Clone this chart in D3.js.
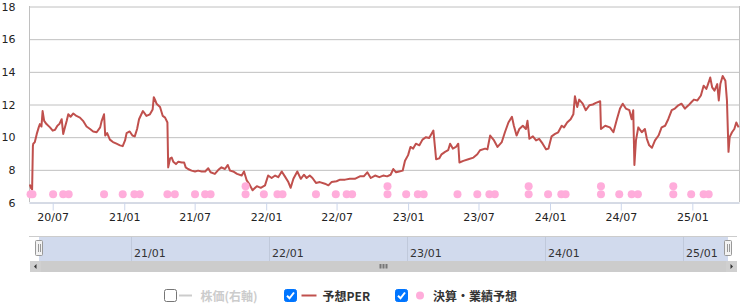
<!DOCTYPE html>
<html><head><meta charset="utf-8">
<script src="https://cdn.jsdelivr.net/npm/d3@7"></script>
<style>body{margin:0;background:#fff}svg{display:block}</style>
</head><body>
<svg id="c" width="745" height="304"></svg>
<script>
// ---- data ----
const perDates = [
"2020-05-03","2020-05-06","2020-05-09","2020-05-11","2020-05-12","2020-05-16","2020-05-21","2020-05-26","2020-05-29","2020-06-02",
"2020-06-05","2020-06-09","2020-06-15","2020-06-24","2020-07-01","2020-07-07","2020-07-13","2020-07-18","2020-07-24","2020-07-28",
"2020-08-02","2020-08-06","2020-08-10","2020-08-16","2020-08-23","2020-08-31","2020-09-09","2020-09-17","2020-09-26","2020-10-05",
"2020-10-13","2020-10-22","2020-10-31","2020-11-04","2020-11-10","2020-11-13","2020-11-18","2020-11-25","2020-12-03","2020-12-12",
"2020-12-21","2020-12-28","2021-01-03","2021-01-07","2021-01-15","2021-01-22","2021-01-28","2021-02-03","2021-02-08","2021-02-14",
"2021-02-18","2021-02-27","2021-03-08","2021-03-15","2021-03-18","2021-03-21","2021-03-25","2021-04-03","2021-04-10","2021-04-16",
"2021-04-22","2021-04-24","2021-04-29","2021-05-03","2021-05-07","2021-05-14","2021-05-20","2021-05-29","2021-06-04","2021-06-08",
"2021-06-14","2021-06-23","2021-07-02","2021-07-10","2021-07-19","2021-07-28","2021-08-05","2021-08-11","2021-08-22","2021-08-31",
"2021-09-08","2021-09-17","2021-09-24","2021-09-30","2021-10-08","2021-10-18","2021-10-30","2021-11-05","2021-11-12","2021-11-18",
"2021-11-27","2021-12-08","2021-12-18","2021-12-29","2022-01-06","2022-01-15","2022-01-24","2022-02-01","2022-02-10","2022-02-18",
"2022-02-27","2022-03-05","2022-03-12","2022-03-22","2022-03-31","2022-04-08","2022-04-15","2022-04-23","2022-04-30","2022-05-09",
"2022-05-19","2022-06-01","2022-06-10","2022-06-18","2022-07-01","2022-07-10","2022-07-23","2022-08-04","2022-08-17","2022-08-30",
"2022-09-09","2022-09-18","2022-09-27","2022-10-08","2022-10-19","2022-10-29","2022-11-08","2022-11-17","2022-11-24","2022-12-01",
"2022-12-09","2022-12-18","2022-12-24","2023-01-01","2023-01-07","2023-01-14","2023-01-21","2023-01-30","2023-02-07","2023-02-16",
"2023-02-24","2023-03-02","2023-03-07","2023-03-14","2023-03-22","2023-03-28","2023-04-06","2023-04-14","2023-04-19","2023-04-26",
"2023-05-04","2023-05-10","2023-05-13","2023-05-23","2023-06-05","2023-06-18","2023-06-28","2023-07-05","2023-07-18","2023-07-24",
"2023-07-31","2023-08-10","2023-08-19","2023-08-30","2023-09-07","2023-09-16","2023-09-25","2023-09-30","2023-10-07","2023-10-14",
"2023-10-23","2023-10-31","2023-11-04","2023-11-09","2023-11-18","2023-11-26","2023-12-04","2023-12-13","2023-12-22","2023-12-28",
"2024-01-05","2024-01-14","2024-01-22","2024-01-31","2024-02-06","2024-02-14","2024-02-23","2024-03-01","2024-03-05","2024-03-11",
"2024-03-16","2024-03-25","2024-04-02","2024-04-11","2024-04-20","2024-04-28","2024-05-09","2024-05-11","2024-05-22","2024-06-03",
"2024-06-12","2024-06-21","2024-06-29","2024-07-06","2024-07-14","2024-07-23","2024-07-29","2024-08-02","2024-08-05","2024-08-09",
"2024-08-15","2024-08-24","2024-09-01","2024-09-06","2024-09-12","2024-09-19","2024-09-27","2024-10-06","2024-10-14","2024-10-23",
"2024-10-31","2024-11-09","2024-11-17","2024-11-26","2024-12-04","2024-12-13","2024-12-22","2024-12-30","2025-01-05","2025-01-14",
"2025-01-23","2025-01-30","2025-02-06","2025-02-12","2025-02-16","2025-02-21","2025-02-27","2025-03-06","2025-03-10","2025-03-14",
"2025-03-20","2025-03-27","2025-03-31","2025-04-04","2025-04-07","2025-04-13","2025-04-19","2025-04-24","2025-04-30"
];
const perValues = [
7.1,6.9,6.8,9.45,9.6,9.7,10.2,10.6,10.8,10.65,
11.6,11.0,10.8,10.6,10.4,10.45,10.7,10.8,11.1,10.2,
10.65,11.0,11.4,11.25,11.45,11.3,11.2,11.0,10.65,10.5,
10.35,10.3,10.6,11.0,11.4,10.1,10.25,9.85,9.7,9.6,
9.5,9.45,9.8,10.25,10.35,10.1,10.05,10.5,11.1,11.4,
11.6,11.3,11.4,11.7,12.45,12.3,12.05,11.85,11.3,11.2,
10.9,8.15,8.7,8.75,8.5,8.35,8.5,8.45,8.45,8.15,
8.05,7.95,7.9,7.95,7.9,7.9,8.1,7.85,7.75,8.0,
8.15,8.05,8.3,7.95,7.9,7.75,7.65,7.9,7.35,7.15,
6.75,7.0,6.9,7.05,7.65,7.5,7.65,7.55,7.9,7.6,
7.25,6.9,7.45,7.9,7.45,7.7,7.5,7.65,7.5,7.2,
7.25,7.15,7.05,7.25,7.3,7.4,7.4,7.45,7.45,7.6,
7.6,7.85,7.5,7.65,7.55,7.65,7.6,7.7,8.05,7.85,
7.9,7.95,8.55,8.9,9.4,9.3,9.6,9.5,9.85,10.0,
9.95,10.2,10.4,8.65,8.7,8.95,9.1,9.2,9.6,9.3,
9.4,9.6,8.45,8.55,8.65,8.75,8.95,9.2,9.3,9.25,
10.1,9.8,9.4,9.7,10.3,10.9,11.25,10.7,10.1,10.5,
10.7,10.5,11.0,9.9,10.05,9.8,9.9,9.6,9.25,9.3,
10.05,10.2,10.3,10.7,10.6,10.9,11.1,11.4,12.5,11.85,
12.3,12.05,11.65,11.95,12.0,12.1,12.2,10.5,10.7,10.6,
10.3,11.1,11.75,12.05,11.75,11.65,11.1,11.65,8.3,9.8,
10.6,10.3,10.5,9.9,9.5,9.35,9.8,10.1,10.6,10.7,
11.1,11.65,11.75,11.95,12.05,11.75,11.95,12.15,12.3,12.25,
12.55,13.15,12.95,13.35,13.65,13.05,12.85,13.25,12.25,13.25,
13.75,13.45,12.25,9.1,10.0,10.3,10.5,10.9,10.6
];
const eventDates = [
"2020-05-05","2020-05-10","2020-07-02","2020-07-28","2020-08-11","2020-11-10","2020-12-28","2021-01-27","2021-02-10",
"2021-04-22","2021-05-11","2021-07-02","2021-07-28","2021-08-11","2021-11-09","2021-11-09","2021-12-26","2022-01-30","2022-02-12",
"2022-05-09","2022-06-29","2022-07-27","2022-08-10","2022-11-09","2022-11-09","2022-12-27","2023-01-26","2023-02-10",
"2023-05-08","2023-06-28","2023-07-29","2023-08-12","2023-11-07","2023-11-07","2023-12-27","2024-01-30","2024-02-10",
"2024-05-11","2024-05-11","2024-06-27","2024-07-29","2024-08-14","2024-11-13","2024-11-13","2024-12-29","2025-01-30","2025-02-12"
];
const eventLevels = [
6.5,6.5,6.5,6.5,6.5,6.5,6.5,6.5,6.5,
6.5,6.5,6.5,6.5,6.5,6.5,7.0,6.5,6.5,6.5,
6.5,6.5,6.5,6.5,6.5,7.0,6.5,6.5,6.5,
6.5,6.5,6.5,6.5,6.5,7.0,6.5,6.5,6.5,
6.5,7.0,6.5,6.5,6.5,6.5,7.0,6.5,6.5,6.5
];
const yTickValues = [6,8,10,12,14,16,18];
const xTickDates = ["2020-07-01","2021-01-01","2021-07-01","2022-01-01","2022-07-01","2023-01-01","2023-07-01","2024-01-01","2024-07-01","2025-01-01"];
const navTickDates = ["2021-01-01","2022-01-01","2023-01-01","2024-01-01","2025-01-01"];
const xDomain = ["2020-05-01","2025-05-01"];
const legendLabels = ["株価(右軸)","予想PER","決算・業績予想"];

// ---- drawing ----
const P = d3.timeParse("%Y-%m-%d");
const svg = d3.select("#c");
const FONT = "'DejaVu Sans', Verdana, sans-serif";
const L = 29, R = 739, T = 6, B = 202;
const x = d3.scaleTime().domain(xDomain.map(P)).range([L, R]);
const y = d3.scaleLinear().domain([6, 18]).range([B + 0.5, T + 0.5]);

// y grid + labels
const gy = svg.append("g").attr("transform", `translate(${L + 0.5},0)`)
  .call(d3.axisLeft(y).tickValues(yTickValues).tickSize(-(R - L)).tickPadding(14).tickFormat(d3.format("d")));
gy.select(".domain").remove();
gy.selectAll(".tick line").attr("stroke", "#c0c0c0");
gy.selectAll("text").attr("font-family", FONT).attr("font-size", 11).attr("fill", "#222");

// plot side borders
svg.append("line").attr("x1", L + 0.5).attr("x2", L + 0.5).attr("y1", T).attr("y2", B).attr("stroke", "#c0c0c0");
svg.append("line").attr("x1", R + 0.5).attr("x2", R + 0.5).attr("y1", T).attr("y2", B).attr("stroke", "#c0c0c0");

// x axis
const gx = svg.append("g").attr("transform", `translate(0,${B + 0.5})`)
  .call(d3.axisBottom(x).tickValues(xTickDates.map(P)).tickSize(8).tickSizeOuter(0).tickFormat(d3.timeFormat("%y/%m")));
gx.select(".domain").attr("stroke", "#ccd6eb");
gx.selectAll(".tick line").attr("stroke", "#ccd6eb");
gx.selectAll("text").attr("font-family", FONT).attr("font-size", 11).attr("fill", "#222");

// PER line
const perData = perDates.map((d, i) => ({ d: P(d), v: perValues[i] }));
svg.append("path").datum(perData)
  .attr("fill", "none").attr("stroke", "#c0504d").attr("stroke-width", 2).attr("stroke-linejoin", "round")
  .attr("d", d3.line().x(p => x(p.d)).y(p => y(p.v)));

// events
svg.append("g").selectAll("circle").data(eventDates.map((d, i) => ({ d: P(d), v: eventLevels[i] })))
  .join("circle").attr("cx", p => x(p.d)).attr("cy", p => y(p.v)).attr("r", 4).attr("fill", "#ffaddb");

// ---- navigator ----
const NL = 39, NR = 728, NT = 236.5, NB = 261;
const x2 = d3.scaleTime().domain(xDomain.map(P)).range([NL, NR]);
svg.append("line").attr("x1", 29).attr("x2", 737).attr("y1", NT).attr("y2", NT).attr("stroke", "#cccccc");
svg.append("rect").attr("x", NL).attr("y", NT + 0.5).attr("width", NR - NL).attr("height", NB - NT - 0.5).attr("fill", "#d1daed");
const navG = svg.append("g");
navG.selectAll("line").data(navTickDates.map(P)).join("line")
  .attr("x1", d => Math.round(x2(d)) + 0.5).attr("x2", d => Math.round(x2(d)) + 0.5)
  .attr("y1", NT + 0.5).attr("y2", NB).attr("stroke", "#c0c9db");
navG.selectAll("text").data(navTickDates.map(P)).join("text")
  .attr("x", d => Math.round(x2(d)) + 3).attr("y", 256.5)
  .attr("font-family", FONT).attr("font-size", 11).attr("fill", "#333")
  .text(d3.timeFormat("%y/%m"));

// handles
[NL, NR].forEach(hx => {
  const g = svg.append("g");
  g.append("rect").attr("x", hx - 3.5).attr("y", 240.5).attr("width", 7).attr("height", 15).attr("rx", 1)
    .attr("fill", "#f2f2f2").attr("stroke", "#999");
  [-1, 1].forEach(o => g.append("line").attr("x1", hx + o + 0.5).attr("x2", hx + o + 0.5)
    .attr("y1", 244).attr("y2", 252).attr("stroke", "#999"));
});

// scrollbar
const SL = 30, SR = 737, ST = 261, SH = 11;
svg.append("rect").attr("x", SL).attr("y", ST).attr("width", SR - SL).attr("height", SH).attr("fill", "#cccccc");
svg.append("rect").attr("x", SL).attr("y", ST).attr("width", 11).attr("height", SH).attr("fill", "#d0d0d0");
svg.append("rect").attr("x", SR - 11).attr("y", ST).attr("width", 11).attr("height", SH).attr("fill", "#d0d0d0");
svg.append("path").attr("d", `M${SL + 4},${ST + 5.5} L${SL + 6.5},${ST + 3} L${SL + 6.5},${ST + 8} Z`).attr("fill", "#333");
svg.append("path").attr("d", `M${SR - 4},${ST + 5.5} L${SR - 6.5},${ST + 3} L${SR - 6.5},${ST + 8} Z`).attr("fill", "#333");
const mid = (SL + SR) / 2;
[-3, 0, 3].forEach(o => svg.append("rect").attr("x", mid + o - 1).attr("y", 264).attr("width", 2).attr("height", 4.5).attr("fill", "#777"));

// ---- legend ----
const LY = 295.5;
const lg = svg.append("g");
function checkbox(cx, checked) {
  lg.append("rect").attr("x", cx + 0.5).attr("y", 289.5).attr("width", 12).attr("height", 12).attr("rx", 2)
    .attr("fill", checked ? "#0075ff" : "#fff").attr("stroke", checked ? "#0075ff" : "#767676");
  if (checked) lg.append("path").attr("d", `M${cx + 3},${295.8} L${cx + 5.5},${298.3} L${cx + 10},${292.5}`)
    .attr("fill", "none").attr("stroke", "#fff").attr("stroke-width", 2);
}
const lfont = "'Noto Sans CJK JP', 'Noto Sans', sans-serif";
checkbox(164, false);
lg.append("line").attr("x1", 179).attr("x2", 192).attr("y1", LY).attr("y2", LY).attr("stroke", "#cccccc").attr("stroke-width", 2);
lg.append("text").attr("x", 200.5).attr("y", LY).attr("dominant-baseline", "central").attr("font-family", lfont)
  .attr("font-size", 12).attr("font-weight", "bold").attr("fill", "#cccccc").text(legendLabels[0]);
checkbox(284, true);
lg.append("line").attr("x1", 301.5).attr("x2", 316.5).attr("y1", LY).attr("y2", LY).attr("stroke", "#c0504d").attr("stroke-width", 2);
lg.append("text").attr("x", 322.5).attr("y", LY).attr("dominant-baseline", "central").attr("font-family", lfont)
  .attr("font-size", 12).attr("font-weight", "bold").attr("fill", "#333").text(legendLabels[1]);
checkbox(395, true);
lg.append("circle").attr("cx", 420).attr("cy", LY).attr("r", 4).attr("fill", "#ffaddb");
lg.append("text").attr("x", 433).attr("y", LY).attr("dominant-baseline", "central").attr("font-family", lfont)
  .attr("font-size", 12).attr("font-weight", "bold").attr("fill", "#333").text(legendLabels[2]);
</script>
</body></html>
